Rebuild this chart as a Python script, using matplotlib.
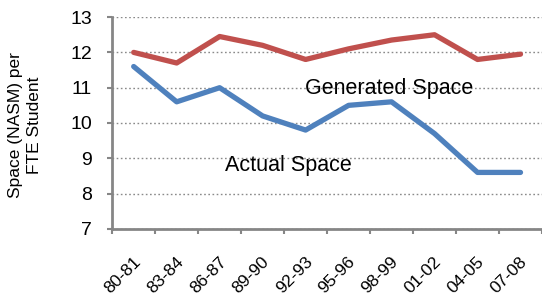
import numpy as np
import matplotlib.pyplot as plt
import matplotlib.transforms as mtransforms

plt.rcParams['font.family'] = ['Liberation Sans', 'DejaVu Sans']

years = ['80-81', '83-84', '86-87', '89-90', '92-93',
         '95-96', '98-99', '01-02', '04-05', '07-08']
generated = [12.0, 11.7, 12.45, 12.2, 11.8, 12.1, 12.35, 12.5, 11.8, 11.95]
actual = [11.6, 10.6, 11.0, 10.2, 9.8, 10.5, 10.6, 9.7, 8.6, 8.6]

fig = plt.figure(figsize=(5.42, 3.0), dpi=100)
ax = fig.add_axes([0.207, 0.237, 0.793, 0.706])

x = np.arange(len(years))
ax.plot(x, generated, color='#C0504D', lw=3.8, solid_capstyle='round')
ax.plot(x, actual, color='#4F81BD', lw=3.8, solid_capstyle='round')

ax.set_xlim(-0.5, len(years) - 0.5)
ax.set_ylim(7, 13)
ax.set_yticks(range(7, 14))
ax.tick_params(axis='y', labelsize=14, length=3.6, color='#868686', width=1.5, pad=11)
ax.set_xticks(x)
ax.set_xticklabels(years, rotation=45, ha='right', va='top', rotation_mode='anchor', fontsize=12.5)
ax.tick_params(axis='x', length=0, pad=18)
shift = mtransforms.ScaledTranslation(-1 / 100, 0, fig.dpi_scale_trans)
for lab in ax.get_xticklabels():
    lab.set_transform(lab.get_transform() + shift)
ax.set_xticks(np.arange(-0.5, len(years)), minor=True)
ax.tick_params(axis='x', which='minor', length=3.6, color='#868686', width=1.5)

ax.grid(axis='y', linestyle=(0, (1.2, 1.8)), color='#8a8a8a', lw=1)
ax.set_axisbelow(True)
for s in ['top', 'right']:
    ax.spines[s].set_visible(False)
for s in ['left', 'bottom']:
    ax.spines[s].set_color('#868686')
    ax.spines[s].set_linewidth(2)

ax.text(5.95, 10.97, 'Generated Space', fontsize=15.5, ha='center', va='center')
ax.text(3.6, 8.8, 'Actual Space', fontsize=15.5, ha='center', va='center')

fig.text(0.046, 0.583, 'Space (NASM) per\nFTE Student', rotation=90,
         ha='center', va='center', fontsize=12.5, linespacing=1.3)

fig.savefig('out.png', dpi=100)
